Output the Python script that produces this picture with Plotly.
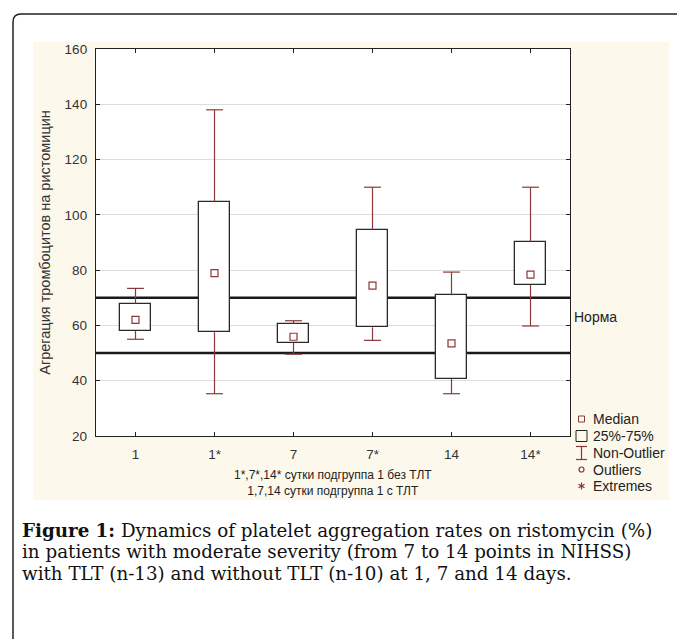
import plotly.graph_objects as go

# ---------------- data ----------------
categories = ["1", "1*", "7", "7*", "14", "14*"]
upper_whisker = [73.4, 138.0, 61.7, 110.0, 79.3, 110.0]
q3_values = [67.9, 104.7, 60.6, 94.6, 70.9, 90.2]
median_values = [62.0, 78.9, 55.9, 74.4, 53.5, 78.4]
q1_values = [58.1, 57.5, 53.8, 59.3, 40.6, 74.6]
lower_whisker = [55.0, 35.3, 49.6, 54.6, 35.3, 59.8]
norm_lines = [50, 70]
y_ticks = [20, 40, 60, 80, 100, 120, 140, 160]

legend_labels = ["Median", "25%-75%", "Non-Outlier", "Outliers", "Extremes"]
caption_lines = [
    "<b>Figure 1:</b> Dynamics of platelet aggregation rates on ristomycin (%)",
    "in patients with moderate severity (from 7 to 14 points in NIHSS)",
    "with TLT (n-13) and without TLT (n-10) at 1, 7 and 14 days.",
]

# ---------------- layout geometry ----------------
W, H = 677, 639
L, R, T, B = 96, 570, 49, 436  # plot area in pixels
PW, PH = R - L, B - T


def px(x):
    return (x - L) / PW


def py(y):
    return (B - y) / PH


DARKRED = "#8C3838"
BOXLINE = "#2a2a2a"
BEIGE = "#FDF8EC"
SANS = "Liberation Sans, Arial, sans-serif"

pos = list(range(len(categories)))
cap = 0.107

fig = go.Figure()

# boxes (25%-75%)
fig.add_trace(go.Bar(
    x=pos, base=q1_values,
    y=[a - b for a, b in zip(q3_values, q1_values)],
    width=0.4, marker=dict(color="white", line=dict(color=BOXLINE, width=1.3)),
    showlegend=False, hoverinfo="skip"))

# whiskers
wx, wy, cx, cy = [], [], [], []
for i, up, q3, q1, lo in zip(pos, upper_whisker, q3_values, q1_values, lower_whisker):
    wx += [i, i, None, i, i, None]
    wy += [q3, up, None, q1, lo, None]
    cx += [i - cap, i + cap, None, i - cap, i + cap, None]
    cy += [up, up, None, lo, lo, None]
fig.add_trace(go.Scatter(x=wx, y=wy, mode="lines", line=dict(color=DARKRED, width=1.2),
                         showlegend=False, hoverinfo="skip"))
fig.add_trace(go.Scatter(x=cx, y=cy, mode="lines", line=dict(color=DARKRED, width=1.2),
                         showlegend=False, hoverinfo="skip"))

# medians
fig.add_trace(go.Scatter(x=pos, y=median_values, mode="markers",
                         marker=dict(symbol="square-open", size=7, color=DARKRED,
                                     line=dict(width=1.2, color=DARKRED)),
                         showlegend=False))

shapes = []
# beige panel
shapes.append(dict(type="rect", xref="paper", yref="paper", layer="below",
                   x0=px(33), x1=px(669), y0=py(500), y1=py(42),
                   fillcolor=BEIGE, line=dict(width=0)))
# white plotting area
shapes.append(dict(type="rect", xref="paper", yref="paper", layer="below",
                   x0=0, x1=1, y0=0, y1=1, fillcolor="white", line=dict(width=0)))
# norm lines
for v in norm_lines:
    shapes.append(dict(type="line", xref="paper", yref="y", layer="below",
                       x0=0, x1=1, y0=v, y1=v, line=dict(color="#1a1a1a", width=2.5)))
# outer rounded frame (left and top edges)
r = 8
path = (f"M {px(13)} {py(700)} L {px(13)} {py(14 + r)} "
        f"Q {px(13)} {py(14)} {px(13 + r)} {py(14)} L {px(700)} {py(14)}")
shapes.append(dict(type="path", xref="paper", yref="paper", path=path,
                   line=dict(color="#222222", width=1.5)))

# legend keys
ly = [419, 436, 453, 469.5, 486]
kx = 581.5
shapes.append(dict(type="rect", xref="paper", yref="paper",
                   x0=px(kx - 3), x1=px(kx + 3), y0=py(ly[0] + 3), y1=py(ly[0] - 3),
                   line=dict(color=DARKRED, width=1)))
shapes.append(dict(type="rect", xref="paper", yref="paper",
                   x0=px(kx - 5.5), x1=px(kx + 5.5), y0=py(ly[1] + 5.5), y1=py(ly[1] - 5.5),
                   line=dict(color="#222222", width=1)))
shapes.append(dict(type="line", xref="paper", yref="paper",
                   x0=px(kx), x1=px(kx), y0=py(ly[2] - 6.5), y1=py(ly[2] + 6.5),
                   line=dict(color=DARKRED, width=1.2)))
for dy in (-6.5, 6.5):
    shapes.append(dict(type="line", xref="paper", yref="paper",
                       x0=px(kx - 5.5), x1=px(kx + 5.5), y0=py(ly[2] + dy), y1=py(ly[2] + dy),
                       line=dict(color=DARKRED, width=1.2)))
shapes.append(dict(type="circle", xref="paper", yref="paper",
                   x0=px(kx - 2.5), x1=px(kx + 2.5), y0=py(ly[3] + 2.5), y1=py(ly[3] - 2.5),
                   line=dict(color=DARKRED, width=1.2)))
for (ddx, ddy) in ((0, 3.5), (3.0, 1.75), (3.0, -1.75)):
    shapes.append(dict(type="line", xref="paper", yref="paper",
                       x0=px(kx - ddx), x1=px(kx + ddx), y0=py(ly[4] - ddy), y1=py(ly[4] + ddy),
                       line=dict(color=DARKRED, width=1.2)))

annotations = []
for lab, yy in zip(legend_labels, ly):
    annotations.append(dict(xref="paper", yref="paper", x=px(591), y=py(yy),
                            xanchor="left", yanchor="middle", text=lab, showarrow=False,
                            font=dict(family=SANS, size=14, color="#222222")))
annotations.append(dict(xref="paper", yref="y", x=px(572), y=63.2, xanchor="left",
                        yanchor="middle", text="Норма", showarrow=False,
                        font=dict(family=SANS, size=14, color="#222222")))
annotations.append(dict(xref="paper", yref="paper", x=0.5, y=py(482.5), xanchor="center",
                        yanchor="middle", showarrow=False, align="center",
                        text="1*,7*,14* сутки подгруппа 1 без ТЛТ<br>1,7,14 сутки подгруппа 1 с ТЛТ",
                        font=dict(family=SANS, size=12, color="#222222")))
for line, yy in zip(caption_lines, [530, 551.5, 573]):
    annotations.append(dict(xref="paper", yref="paper", x=px(20), y=py(yy), xanchor="left",
                            yanchor="middle", showarrow=False, align="left", text=line,
                            font=dict(family="DejaVu Serif", size=18.3, color="#111111")))

axis_common = dict(showline=True, linecolor="#222222", linewidth=1.3, mirror="ticks",
                   ticks="inside", ticklen=4, tickcolor="#222222", zeroline=False,
                   tickfont=dict(family=SANS, size=13.5, color="#333333"))

fig.update_layout(
    width=W, height=H,
    margin=dict(l=L, r=W - R, t=T, b=H - B, pad=0),
    paper_bgcolor="white", plot_bgcolor="rgba(0,0,0,0)",
    shapes=shapes, annotations=annotations, showlegend=False, bargap=0,
    xaxis=dict(range=[-0.5, 5.5], tickvals=pos, ticktext=categories, showgrid=False,
               ticklabelstandoff=6, **axis_common),
    yaxis=dict(range=[20, 160], tickvals=y_ticks, showgrid=True, gridcolor="#dddddd",
               gridwidth=1, ticklabelstandoff=5,
               title=dict(text="Агрегация тромбоцитов на ристомицин", standoff=10,
                          font=dict(family=SANS, size=14.5, color="#333333")),
               **axis_common),
)

fig.write_html("out.html")
